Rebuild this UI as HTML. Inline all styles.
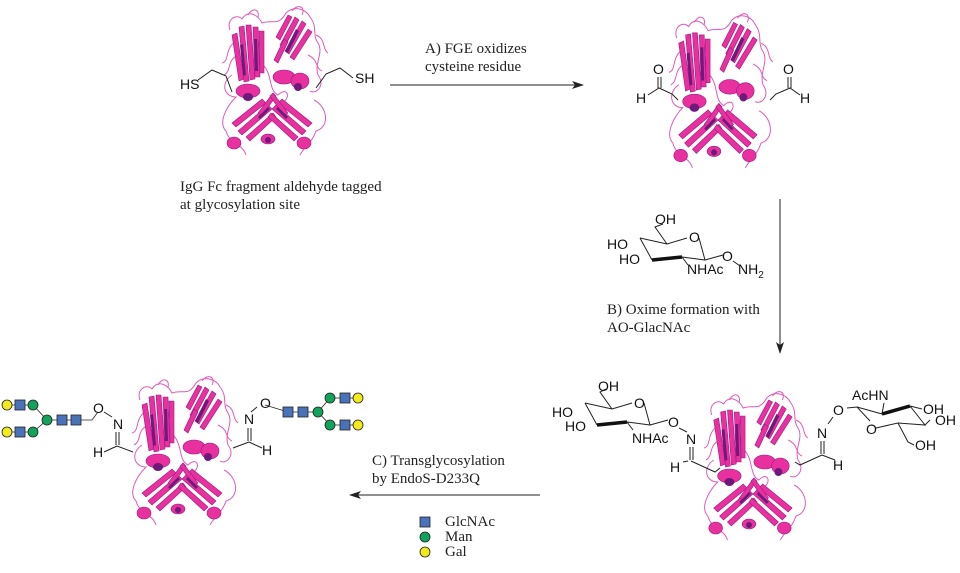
<!DOCTYPE html>
<html><head><meta charset="utf-8"><style>
html,body{margin:0;padding:0;background:#fff}
svg{display:block}
.t{font-family:"Liberation Serif",serif;font-size:15px;fill:#222}
.c{font-family:"Liberation Sans",sans-serif;font-size:14px;fill:#111}
.b{stroke:#222;stroke-width:1;fill:none}
</style></head><body>
<svg width="960" height="573" viewBox="0 0 960 573" xmlns="http://www.w3.org/2000/svg">
<defs>
<marker id="ah" markerWidth="12" markerHeight="8" refX="11" refY="4" orient="auto" markerUnits="userSpaceOnUse"><path d="M0,0 L12,4 L0,8 L3,4 z" fill="#222"/></marker>
<g id="prot">
 <g fill="none" stroke="#e05ab8" stroke-width="1">
  <path d="M12,25 C8,15 18,8 24,14 C30,4 40,10 44,18 C55,14 60,22 68,8 C76,0 88,4 92,12 C100,22 94,30 100,38 C106,48 96,58 100,70 C108,80 98,90 92,86"/>
  <path d="M14,70 C2,78 6,92 18,92 C8,102 0,118 8,126 C12,140 24,138 28,150"/>
  <path d="M96,95 C110,102 112,122 98,126 C94,138 86,142 82,150"/>
  <path d="M45,60 C55,70 50,85 60,90 C70,80 75,95 60,100"/>
  <path d="M18,36 C6,44 12,56 4,58 M20,50 C8,56 14,66 6,70"/>
  <path d="M98,30 C108,34 104,44 110,48 M90,50 C102,56 96,62 104,66"/>
  <path d="M30,10 C34,2 42,4 40,12 M74,6 C80,-2 88,2 84,10"/>
 </g>
 <g fill="#e8309e" stroke="#9c1a86" stroke-width="0.6">
  <path d="M14,30 L19,28 L26,74 L21,76 z"/>
  <path d="M21,22 L26,21 L31,76 L26,77 z"/>
  <path d="M28,20 L33,20 L37,74 L32,75 z"/>
  <path d="M35,22 L40,22 L42,72 L37,72 z"/>
  <path d="M41,26 L46,26 L46,68 L42,68 z"/>
  <path d="M58,32 L70,10 L74,12 L62,35 z"/>
  <path d="M62,40 L77,12 L81,15 L66,43 z"/>
  <path d="M67,46 L84,16 L88,19 L71,49 z"/>
  <path d="M72,52 L90,24 L94,27 L76,55 z"/>
  <path d="M56,55 L66,34 L70,37 L60,58 z"/>
  <ellipse cx="30" cy="86" rx="12" ry="7"/>
  <ellipse cx="66" cy="72" rx="11" ry="7"/>
  <ellipse cx="82" cy="76" rx="9" ry="8"/>
  <path d="M14,118 L44,94 L48,98 L18,122 z"/>
  <path d="M20,126 L50,100 L54,104 L24,130 z"/>
  <path d="M28,132 L55,108 L58,112 L32,136 z"/>
  <path d="M94,118 L64,94 L60,98 L90,122 z"/>
  <path d="M88,126 L58,100 L54,104 L84,130 z"/>
  <path d="M80,132 L53,108 L50,112 L76,136 z"/>
  <path d="M40,108 L55,88 L58,91 L44,111 z"/>
  <path d="M70,108 L55,88 L52,91 L66,111 z"/>
  <ellipse cx="16" cy="138" rx="7" ry="6"/>
  <ellipse cx="50" cy="134" rx="7" ry="5"/>
  <ellipse cx="86" cy="138" rx="7" ry="6"/>
 </g>
 <g fill="#6e1a7a">
  <ellipse cx="30" cy="92" rx="5" ry="4"/>
  <ellipse cx="50" cy="135" rx="3" ry="3"/>
  <ellipse cx="80" cy="82" rx="4" ry="4"/>
  <path d="M22,40 L25,39 L28,70 L25,71 z"/>
  <path d="M36,34 L39,34 L40,66 L37,66 z"/>
  <path d="M78,24 L81,26 L70,48 L67,46 z"/>
  <path d="M40,112 L50,102 L52,104 L42,114 z"/>
  <path d="M70,112 L60,102 L58,104 L68,114 z"/>
 </g>
</g>
</defs>

<use href="#prot" transform="translate(218,5)"/>
<use href="#prot" transform="translate(665,12) scale(0.98,1.04)"/>
<use href="#prot" transform="translate(128,375)"/>
<use href="#prot" transform="translate(700,390) scale(0.98,1)"/>

<polyline class="b" points="198,80 212,70 226,76 232,92"/>
<text class="c" x="180" y="89">HS</text>
<polyline class="b" points="353,78 340,68 326,74 316,88"/>
<text class="c" x="355" y="83">SH</text>

<line x1="390" y1="85" x2="583" y2="85" stroke="#222" marker-end="url(#ah)"/>
<text class="t" x="425" y="53">A) FGE oxidizes</text>
<text class="t" x="425" y="71">cysteine residue</text>
<text class="t" x="180" y="191">IgG Fc fragment aldehyde tagged</text>
<text class="t" x="180" y="209">at glycosylation site</text>

<text class="c" x="653" y="74">O</text>
<text class="c" x="636" y="103">H</text>
<path class="b" d="M658,77 L658,88 M661,77 L661,88 M648,95 L659,88 L672,94 L678,100"/>
<text class="c" x="783" y="74">O</text>
<text class="c" x="800" y="103">H</text>
<path class="b" d="M788,77 L788,88 M791,77 L791,88 M800,95 L790,88 L776,94 L770,100"/>

<line x1="780" y1="199" x2="780" y2="353" stroke="#222" marker-end="url(#ah)"/>
<text class="t" x="607" y="314">B) Oxime formation with</text>
<text class="t" x="607" y="332">AO-GlacNAc</text>

<g transform="translate(55,-165)">
 <path class="b" d="M585,403 L612,409 L632,403 M644,403 L650,425 L627,422 M597,425 L585,403 M612,409 L600,392 L608,389"/>
 <path d="M597,425 L627,422" stroke="#111" stroke-width="3.5"/>
 <path class="b" d="M627,422 L633,430 M650,425 L668,420"/>
</g>
<text class="c" x="655" y="224">OH</text>
<text class="c" x="607" y="249">HO</text>
<text class="c" x="619" y="264">HO</text>
<text class="c" x="687" y="274">NHAc</text>
<text class="c" x="689" y="242">O</text>
<text class="c" x="722" y="261">O</text>
<text class="c" x="738" y="274">NH<tspan font-size="10" dy="4">2</tspan></text>
<line class="b" x1="733" y1="261" x2="740" y2="266"/>

<path class="b" d="M585,403 L612,409 L632,403 M644,403 L650,425 L627,422 M597,425 L585,403 M612,409 L600,392 L606,389 M627,422 L633,430 M650,425 L668,420"/>
<path d="M597,425 L627,422" stroke="#111" stroke-width="3.5"/>
<text class="c" x="598" y="391">OH</text>
<text class="c" x="552" y="417">HO</text>
<text class="c" x="565" y="431">HO</text>
<text class="c" x="632" y="443">NHAc</text>
<text class="c" x="634" y="408">O</text>
<text class="c" x="668" y="427">O</text>
<text class="c" x="686" y="444">N</text>
<path class="b" d="M679,428 L687,432 M690,447 L690,460 M693,447 L693,460 M691,461 L715,472 L720,468 M683,462 L688,461"/>
<text class="c" x="670" y="472">H</text>

<path class="b" d="M847,408 L857,407 L870,421 M876,428 L898,423 L925,425 L910,406 M857,407 L882,414 M882,414 L884,403 M898,423 L908,442 L914,445 M925,425 L930,420 M910,406 L922,409"/>
<path d="M882,414 L910,406" stroke="#111" stroke-width="3.5"/>
<text class="c" x="852" y="400">AcHN</text>
<text class="c" x="833" y="415">O</text>
<text class="c" x="866" y="434">O</text>
<text class="c" x="923" y="414">OH</text>
<text class="c" x="935" y="425">OH</text>
<text class="c" x="915" y="450">OH</text>
<text class="c" x="817" y="438">N</text>
<path class="b" d="M828,424 L833,417 M821,441 L821,454 M824,441 L824,454 M822,455 L835,460 M822,455 L800,465 L795,462"/>
<text class="c" x="833" y="470">H</text>

<line x1="540" y1="495" x2="350" y2="495" stroke="#222" marker-end="url(#ah)"/>
<text class="t" x="372" y="465">C) Transglycosylation</text>
<text class="t" x="372" y="483">by EndoS-D233Q</text>

<rect x="420" y="517" width="10" height="10" fill="#4a72b8" stroke="#222" stroke-width="0.8"/>
<circle cx="425" cy="537" r="5" fill="#12a35a" stroke="#222" stroke-width="0.8"/>
<circle cx="425" cy="552" r="5" fill="#f2ea1c" stroke="#222" stroke-width="0.8"/>
<text class="t" x="445" y="526" font-size="13">GlcNAc</text>
<text class="t" x="445" y="541" font-size="13">Man</text>
<text class="t" x="445" y="556" font-size="13">Gal</text>

<g stroke="#222" stroke-width="0.8">
 <path d="M7,405 L33,405 L47,420 L92,420 L98,412 M7,432 L33,432 L47,420" fill="none"/>
 <path d="M265,405 L288,412 L318,412 L330,398 L358,398 M318,412 L330,425 L358,425" fill="none"/>
 <circle cx="7" cy="405" r="5" fill="#f2ea1c"/><rect x="15" y="400" width="10" height="10" fill="#4a72b8"/><circle cx="33" cy="405" r="5" fill="#12a35a"/>
 <circle cx="7" cy="432" r="5" fill="#f2ea1c"/><rect x="15" y="427" width="10" height="10" fill="#4a72b8"/><circle cx="33" cy="432" r="5" fill="#12a35a"/>
 <circle cx="47" cy="420" r="5" fill="#12a35a"/><rect x="57" y="415" width="10" height="10" fill="#4a72b8"/><rect x="71" y="415" width="10" height="10" fill="#4a72b8"/>
 <rect x="283" y="407" width="10" height="10" fill="#4a72b8"/><rect x="298" y="407" width="10" height="10" fill="#4a72b8"/><circle cx="318" cy="412" r="5" fill="#12a35a"/>
 <circle cx="330" cy="398" r="5" fill="#12a35a"/><rect x="340" y="393" width="10" height="10" fill="#4a72b8"/><circle cx="358" cy="398" r="5" fill="#f2ea1c"/>
 <circle cx="330" cy="425" r="5" fill="#12a35a"/><rect x="340" y="420" width="10" height="10" fill="#4a72b8"/><circle cx="358" cy="425" r="5" fill="#f2ea1c"/>
</g>
<text class="c" x="93" y="413">O</text>
<text class="c" x="113" y="429">N</text>
<path class="b" d="M104,412 L112,417 M116,432 L116,445 M119,432 L119,445 M117,446 L104,452 M117,446 L133,452"/>
<text class="c" x="93" y="457">H</text>
<text class="c" x="260" y="408">O</text>
<text class="c" x="244" y="424">N</text>
<path class="b" d="M257,407 L251,412 M248,428 L248,441 M251,428 L251,441 M249,442 L262,448 M249,442 L233,448"/>
<text class="c" x="262" y="455">H</text>
</svg>
</body></html>
